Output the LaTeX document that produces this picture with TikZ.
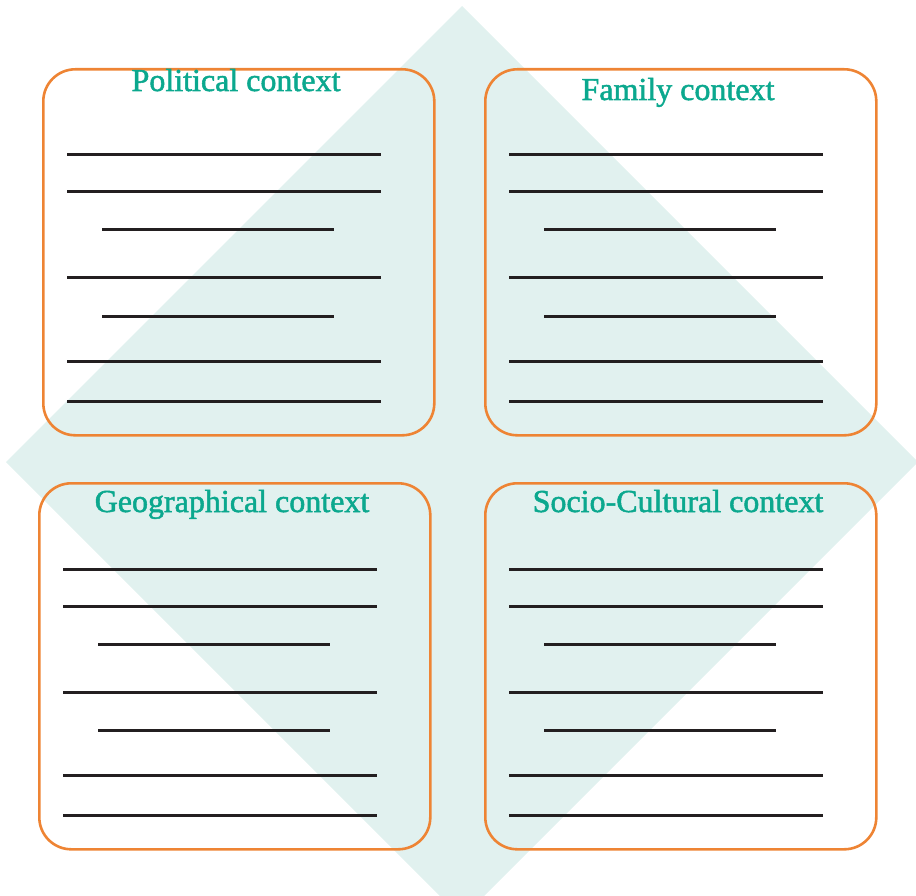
\documentclass[tikz,border=0pt]{standalone}
\usepackage{fontspec}
\setmainfont{Liberation Serif}
\newfontfamily\ctxfont[FakeBold=1.6]{Liberation Serif}
\usetikzlibrary{positioning}
\definecolor{ctxteal}{HTML}{0BA88E}
\definecolor{ctxorange}{HTML}{EE8434}
\definecolor{ctxpale}{HTML}{E1F1EF}
\definecolor{ctxrule}{HTML}{231F20}

\begin{document}
\begin{tikzpicture}[x=1pt,y=-1pt,
  ctxbox/.style = {draw=ctxorange, line width=2.6pt, rounded corners=32pt,
    minimum width=391pt, minimum height=366pt, inner sep=0pt, anchor=north west},
  ctxtitle/.style = {text=ctxteal, font=\ctxfont\fontsize{32}{36}\selectfont, anchor=base},
  ctxrule/.style = {draw=ctxrule, line width=3pt}]
\useasboundingbox (0,0) rectangle (916,896);
\clip (0,0) rectangle (916,896);
% pale diamond behind the boxes
\fill[ctxpale] (462,6) -- (918,462) -- (462,918) -- (6,462) -- cycle;

% the four context boxes
\node[ctxbox] (pol) at (42,68) {};
\node[ctxbox] (fam) at (484,68) {};
\node[ctxbox] (geo) at (38,482) {};
\node[ctxbox] (soc) at (484,482) {};

\node[ctxtitle] (poltitle) at (236,91) {Political context};
\node[ctxtitle] (famtitle) at (678,100) {Family context};
\node[ctxtitle] (geotitle) at (232,512) {Geographical context};
\node[ctxtitle] (soctitle) at (678,512) {Socio-Cultural context};

% writing lines
\foreach \bx/\by in {42/68, 484/68, 38/482, 484/482} {
  \foreach \dy in {87,124,210,293,333}
    \draw[ctxrule] (\bx+25,\by+\dy) -- (\bx+339,\by+\dy);
  \foreach \dy in {162,248}
    \draw[ctxrule] (\bx+60,\by+\dy) -- (\bx+292,\by+\dy);
}
\end{tikzpicture}
\end{document}
